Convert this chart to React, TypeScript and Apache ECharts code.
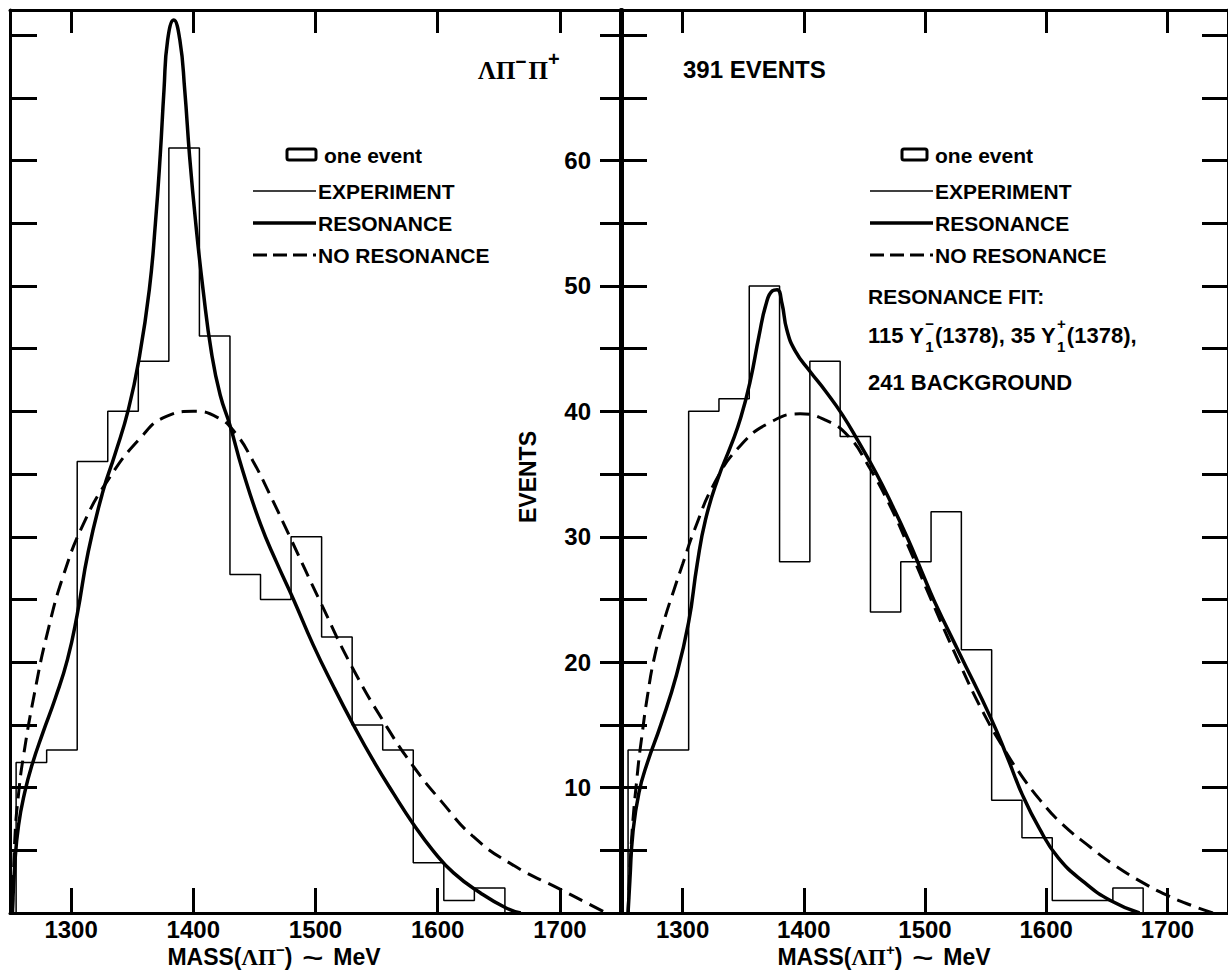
import React, { useEffect, useRef } from 'react';
import * as echarts from 'echarts';

// ---------------- data ----------------
const binEdges = [1255, 1280, 1305, 1330, 1355, 1380, 1405, 1430, 1455, 1480, 1505, 1530, 1555, 1580, 1605, 1630, 1655, 1680];
// Λπ⁻ histogram (events per 25 MeV bin)
const countsMinus = [12, 13, 36, 40, 44, 61, 46, 27, 25, 30, 22, 15, 13, 4, 1, 2];
// Λπ⁺ histogram
const countsPlus = [13, 13, 40, 41, 50, 28, 44, 38, 24, 28, 32, 21, 9, 6, 1, 1, 2];

const massTicks = [1300, 1400, 1500, 1600, 1700];
const eventTickMarks = [0, 5, 10, 15, 20, 25, 30, 35, 40, 45, 50, 55, 60, 65, 70];
const eventLabels = [10, 20, 30, 40, 50, 60];

const resonanceMinus = [
  [1252, 0], [1254, 4], [1257, 7], [1262, 9.6], [1268, 11.8], [1277, 14.4], [1287, 17.1], [1297, 20.2],
  [1305, 23.8], [1314, 28.8], [1326, 33.6], [1336, 36.6], [1347, 40.2], [1356, 44.4], [1364, 49.7],
  [1369, 55], [1373, 60.5], [1376, 65.6], [1379, 69.6], [1384, 71.2], [1389, 69.6], [1393, 65.6],
  [1397, 60.3], [1402, 55], [1408, 49.7], [1415, 44.6], [1422, 41.3], [1430, 38.9], [1440, 35.4],
  [1455, 31], [1468, 28], [1482, 25], [1498, 21.4], [1515, 18], [1531, 15],
  [1547, 12.2], [1564, 9.5], [1580, 7.1], [1596, 5], [1613, 3.2], [1635, 1.6], [1656, 0.4], [1668, 0],
];
const noResonanceMinus = [
  [1252, 0], [1254, 6], [1257, 9.5], [1261, 12.5], [1270, 17.5], [1281, 22.5], [1294, 27], [1310, 31],
  [1330, 34.5], [1356, 37.8], [1378, 39.6], [1400, 40], [1420, 39.5], [1435, 38.2], [1449, 36],
  [1462, 33.5], [1479, 30], [1504, 24.8], [1530, 19.6], [1558, 14.9], [1580, 11.7], [1603, 8.9],
  [1629, 6.1], [1662, 3.8], [1700, 1.9], [1720, 0.9], [1738, 0],
];
const resonancePlus = [
  [1255, 0], [1256.5, 2.6], [1259, 6.4], [1264, 9.6], [1271, 12], [1282, 15], [1295, 19],
  [1305, 23.2], [1312, 27.8], [1319, 31.4], [1329, 34.6], [1340, 37.3], [1348, 39.5], [1356, 42.5],
  [1363, 46], [1369, 48.6], [1374, 49.6], [1378, 49.7], [1382, 48.6], [1386, 46.5], [1393, 44.8],
  [1405, 43.2], [1418, 41.6], [1432, 39.7], [1445, 37.6], [1459, 35.2], [1473, 32.5], [1486, 29.8],
  [1497, 27.3], [1508, 24.8], [1529, 20.6], [1555, 15.4], [1568, 12.4], [1580, 9.5], [1594, 6.8],
  [1610, 4.4], [1632, 2.4], [1653, 1], [1677, 0],
];
const noResonancePlus = [
  [1255, 0], [1258, 6], [1263, 11.4], [1266, 13.8], [1271, 17.3], [1277, 20.5], [1285, 23.4],
  [1293, 25.8], [1300, 27.8], [1310, 30.6], [1327, 34.4], [1348, 37.3], [1372, 39.1], [1397, 39.8],
  [1418, 39.3], [1437, 38], [1453, 35.7], [1470, 32.7], [1486, 29.3], [1505, 25], [1529, 19.8],
  [1548, 16], [1567, 12.8], [1580, 10.9], [1595, 9], [1612, 7.2], [1637, 5.2], [1655, 3.9],
  [1680, 2.4], [1700, 1.4], [1720, 0.6], [1738, 0],
];

// ---------------- helpers ----------------
const FONT = '"Liberation Sans", Arial, sans-serif';
const SERIF = '"Liberation Serif", "DejaVu Serif", serif';
const INK = '#000';
const WEIGHT = 'bold';

function stepPoints(counts: number[]) {
  const pts: number[][] = [[binEdges[0], 0]];
  counts.forEach((c, i) => {
    pts.push([binEdges[i], c]);
    pts.push([binEdges[i + 1], c]);
  });
  pts.push([binEdges[counts.length], 0]);
  return pts;
}

let measureCtx: CanvasRenderingContext2D | null = null;
function textWidth(t: string, size: number, family = FONT, weight = WEIGHT) {
  if (!measureCtx) measureCtx = document.createElement('canvas').getContext('2d');
  measureCtx!.font = `${weight} ${size}px ${family}`;
  return measureCtx!.measureText(t).width;
}

function xAxes(gridIndex: number) {
  const common = {
    gridIndex,
    type: 'value',
    min: 1250,
    max: 1750,
    splitLine: { show: false },
  };
  return [
    {
      ...common,
      position: 'bottom',
      axisLine: { show: true, onZero: false, lineStyle: { color: INK, width: 3 } },
      axisTick: { show: true, inside: true, length: 25, customValues: massTicks, lineStyle: { color: INK, width: 3 } },
      axisLabel: {
        show: true,
        customValues: massTicks,
        formatter: (v: number) => String(v),
        color: INK,
        fontSize: 24,
        fontWeight: WEIGHT,
        fontFamily: FONT,
        lineHeight: 16,
        margin: 8,
      },
    },
    {
      ...common,
      position: 'top',
      axisLine: { show: true, onZero: false, lineStyle: { color: INK, width: 3 } },
      axisTick: { show: true, inside: true, length: 23, customValues: massTicks, lineStyle: { color: INK, width: 3 } },
      axisLabel: { show: false },
    },
  ];
}

function yAxis(gridIndex: number, position: string, width: number, tickLen: number, labels: boolean) {
  return {
    gridIndex,
    type: 'value',
    min: 0,
    max: 72,
    position,
    splitLine: { show: false },
    axisLine: { show: true, onZero: false, lineStyle: { color: INK, width } },
    axisTick: { show: true, inside: true, length: tickLen, customValues: eventTickMarks, lineStyle: { color: INK, width: 3 } },
    axisLabel: labels
      ? {
          show: true,
          customValues: eventLabels,
          formatter: (v: number) => String(v),
          color: INK,
          fontSize: 24,
          fontWeight: WEIGHT,
          fontFamily: FONT,
          margin: 31,
        }
      : { show: false },
  };
}

function curve(data: number[][], xi: number, yi: number, dashed: boolean) {
  return {
    type: 'line',
    xAxisIndex: xi,
    yAxisIndex: yi,
    data,
    symbol: 'none',
    smooth: 0.5,
    silent: true,
    z: 3,
    lineStyle: { color: INK, width: dashed ? 3 : 3.5, type: dashed ? [15, 8] : 'solid', cap: 'butt' },
  };
}

function histogram(counts: number[], xi: number, yi: number) {
  return {
    type: 'line',
    xAxisIndex: xi,
    yAxisIndex: yi,
    data: stepPoints(counts),
    symbol: 'none',
    silent: true,
    z: 2,
    lineStyle: { color: INK, width: 1.5 },
  };
}

function txt(text: string, x: number, y: number, size = 22, align = 'left', extra: any = {}) {
  return {
    type: 'text',
    x,
    y,
    silent: true,
    style: {
      text,
      fill: INK,
      fontSize: size,
      fontWeight: WEIGHT,
      fontFamily: FONT,
      textAlign: align,
      textVerticalAlign: 'middle',
      align,
      verticalAlign: 'middle',
      ...extra,
    },
  };
}

type Piece = { t: string; size: number; family?: string; dy?: number; gap?: number; sx?: number };

// lay out a run of text pieces (with raised parts) starting at x, or centred on x
function composite(pieces: Piece[], x: number, y: number, centre = false) {
  const widths = pieces.map((p) => textWidth(p.t, p.size, p.family || FONT) * (p.sx || 1) + (p.gap || 0));
  const total = widths.reduce((a, b) => a + b, 0);
  let cx = centre ? x - total / 2 : x;
  return pieces.map((p, i) => {
    const el: any = txt(p.t, cx, y + (p.dy || 0), p.size, 'left', {
      fontFamily: p.family || FONT,
      lineHeight: Math.round(p.size * 0.8),
    });
    if (p.sx) el.scaleX = p.sx;
    cx += widths[i];
    return el;
  });
}

function legend(boxX: number, textX: number, lineX1: number, lineX2: number) {
  return [
    {
      type: 'rect',
      silent: true,
      shape: { x: boxX, y: 149, width: textX - boxX - 8, height: 11, r: 2 },
      style: { fill: '#fff', stroke: INK, lineWidth: 3 },
    },
    txt('one event', textX, 155, 21),
    { type: 'line', silent: true, shape: { x1: lineX1, y1: 191, x2: lineX2, y2: 191 }, style: { stroke: INK, lineWidth: 1.5 } },
    txt('EXPERIMENT', lineX2 + 2, 191, 21),
    { type: 'line', silent: true, shape: { x1: lineX1, y1: 223, x2: lineX2, y2: 223 }, style: { stroke: INK, lineWidth: 3.5 } },
    txt('RESONANCE', lineX2 + 2, 223, 21),
    {
      type: 'line',
      silent: true,
      shape: { x1: lineX1, y1: 255, x2: lineX2, y2: 255 },
      style: { stroke: INK, lineWidth: 3, lineDash: [14, 6] },
    },
    txt('NO RESONANCE', lineX2 + 2, 255, 21),
  ];
}

function fitLine(x0: number, y: number) {
  const size = 22;
  const small = 15;
  const els: any[] = [];
  let x = x0;
  const piece = (t: string) => {
    els.push(txt(t, x, y, size));
    x += textWidth(t, size);
  };
  const script = (sup: string) => {
    els.push(txt(sup, x + 1, y - 12, small));
    els.push(txt('1', x + 1, y + 11, small));
    x += Math.max(textWidth(sup, small), textWidth('1', small)) + 2;
  };
  piece('115 Y');
  script('−');
  piece('(1378), 35 Y');
  script('+');
  piece('(1378),');
  return els;
}

function massLabel(sign: string, cx: number) {
  return composite(
    [
      { t: 'MASS(', size: 23 },
      { t: 'ΛΠ', size: 23, family: SERIF },
      { t: sign, size: 15, dy: -8 },
      { t: ')', size: 23, gap: 10 },
      { t: '~', size: 24, sx: 1.5, gap: 10 },
      { t: 'MeV', size: 23 },
    ],
    cx,
    957,
    true,
  );
}

function buildOption() {
  const graphics: any[] = [
    ...legend(287, 324, 253, 316),
    ...legend(902, 935, 870, 933),
    ...composite(
      [
        { t: 'ΛΠ', size: 25, family: SERIF },
        { t: '−', size: 19, dy: -9, gap: 2 },
        { t: 'Π', size: 25, family: SERIF },
        { t: '+', size: 20, dy: -11 },
      ],
      478,
      70,
    ),
    txt('391 EVENTS', 683, 69, 24),
    txt('RESONANCE FIT:', 868, 296, 21),
    ...fitLine(868, 335),
    txt('241 BACKGROUND', 868, 382, 22),
    {
      type: 'text',
      x: 528,
      y: 477,
      rotation: Math.PI / 2,
      silent: true,
      style: {
        text: 'EVENTS',
        fill: INK,
        fontSize: 23,
        fontWeight: WEIGHT,
        fontFamily: FONT,
        textAlign: 'center',
        align: 'center',
        textVerticalAlign: 'middle',
        verticalAlign: 'middle',
      },
    },
    ...massLabel('−', 274),
    ...massLabel('+', 884),
  ];

  return {
    animation: false,
    backgroundColor: '#fff',
    grid: [
      { left: 10, top: 10, width: 611, height: 903, containLabel: false },
      { left: 622, top: 10, width: 617, height: 903, containLabel: false },
    ],
    xAxis: [...xAxes(0), ...xAxes(1)],
    yAxis: [
      yAxis(0, 'left', 3, 27, false),
      yAxis(0, 'right', 4, 21, false),
      yAxis(1, 'left', 4, 25, true),
      yAxis(1, 'right', 3, 26, false),
    ],
    series: [
      histogram(countsMinus, 0, 0),
      curve(resonanceMinus, 0, 0, false),
      curve(noResonanceMinus, 0, 0, true),
      histogram(countsPlus, 2, 2),
      curve(resonancePlus, 2, 2, false),
      curve(noResonancePlus, 2, 2, true),
    ],
    graphic: { elements: graphics },
  };
}

export default function App() {
  const ref = useRef<HTMLDivElement>(null);
  useEffect(() => {
    if (!ref.current) return;
    const chart = echarts.init(ref.current, undefined, { renderer: 'svg' });
    chart.setOption(buildOption() as any);
    return () => chart.dispose();
  }, []);
  return (
    <div
      ref={ref}
      style={{ position: 'fixed', left: 0, top: 0, width: 1228, height: 973, background: '#fff', overflow: 'hidden' }}
    />
  );
}
